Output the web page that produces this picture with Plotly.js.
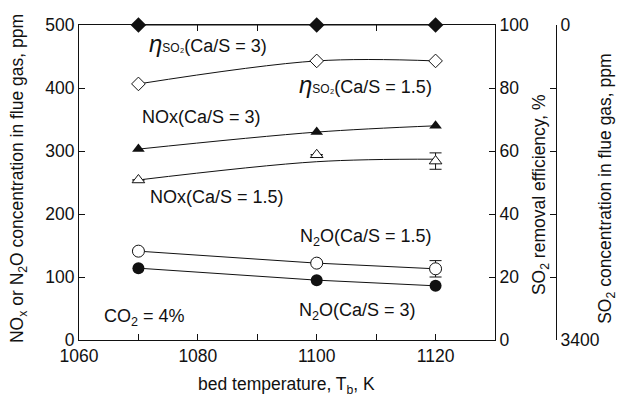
<!DOCTYPE html>
<html>
<head>
<meta charset="utf-8">
<script src="https://cdn.plot.ly/plotly-3.0.1.min.js"></script>
<style>html,body{margin:0;padding:0;background:#fff;}#chart{width:618px;height:403px;}</style>
</head>
<body>
<div id="chart"></div>
<script>
// ---- data ----
var temps = [1070, 1100, 1120];
var etaCaS3 = [100, 100, 100];          // SO2 removal efficiency, %, Ca/S = 3
var etaCaS15 = [81.3, 88.6, 88.6];      // SO2 removal efficiency, %, Ca/S = 1.5
var noxCaS3 = [303, 330, 340];          // NOx ppm, Ca/S = 3
var noxCaS15 = [254, 294, 284];         // NOx ppm, Ca/S = 1.5 (measured)
var noxCaS15Fit = [254, 283, 287];      // NOx ppm, Ca/S = 1.5 (fitted curve)
var noxCaS15Err = [null, null, 13];
var n2oCaS15 = [141, 122, 113];         // N2O ppm, Ca/S = 1.5
var n2oCaS15Err = [null, null, 13];
var n2oCaS3 = [114, 95, 86];            // N2O ppm, Ca/S = 3
var so2ConcTicks = [0, 680, 1360, 2040, 2720, 3400];
var so2ConcLabels = ['0', '', '', '', '', '3400'];

var ink = '#111';
var F = 'Liberation Sans, Arial, Helvetica, sans-serif';
var TS = 17.5;
var lineStyle = {color: ink, width: 1};

var traces = [
  {x: temps, y: etaCaS3, yaxis: 'y2', mode: 'lines+markers', line: lineStyle,
   marker: {symbol: 'diamond', size: 12, color: ink}, cliponaxis: false},
  {x: temps, y: etaCaS15, yaxis: 'y2', mode: 'lines+markers', line: {color: ink, width: 1, shape: 'spline'},
   marker: {symbol: 'diamond', size: 10.5, color: '#fff', line: {color: ink, width: 1}}},
  {x: temps, y: noxCaS3, mode: 'lines+markers', line: {color: ink, width: 1, shape: 'spline'},
   marker: {symbol: 'triangle-up', size: 11, color: ink}},
  {x: temps, y: noxCaS15Fit, mode: 'lines', line: {color: ink, width: 1, shape: 'spline'}},
  {x: temps, y: noxCaS15, mode: 'markers',
   error_y: {type: 'data', array: noxCaS15Err, color: ink, thickness: 1, width: 6},
   marker: {symbol: 'triangle-up', size: 11, color: '#fff', line: {color: ink, width: 1}}},
  {x: temps, y: n2oCaS15, mode: 'lines+markers', line: lineStyle,
   error_y: {type: 'data', array: n2oCaS15Err, color: ink, thickness: 1, width: 6},
   marker: {symbol: 'circle', size: 12, color: '#fff', line: {color: ink, width: 1}}},
  {x: temps, y: n2oCaS3, mode: 'lines+markers', line: lineStyle,
   marker: {symbol: 'circle', size: 12, color: ink}},
  // invisible carrier so the SO2-concentration axis is drawn
  {x: [temps[0]], y: [so2ConcTicks[0]], yaxis: 'y3', mode: 'markers', marker: {opacity: 0}, hoverinfo: 'skip'}
];

function ann(x, y, text) {
  return {x: x, y: y, xref: 'x', yref: 'y', text: text, showarrow: false,
          xanchor: 'left', yanchor: 'middle', font: {family: F, size: 18, color: ink}};
}
function title(x, y, text, angle) {
  return {xref: 'paper', yref: 'paper', x: x, y: y, text: text, textangle: angle, showarrow: false,
          xanchor: 'center', yanchor: 'middle', font: {family: F, size: 17.5, color: ink}};
}
var eta = '<span style="font-size:24px"><i>η</i></span><span style="font-size:12px">SO₂</span>';

var axCommon = {ticks: 'inside', ticklen: 6, tickcolor: ink, showline: true, linecolor: ink, linewidth: 1,
                showgrid: false, zeroline: false, tickfont: {family: F, size: TS, color: ink}};
function ax(o) { var r = {}; for (var k in axCommon) r[k] = axCommon[k]; for (var k2 in o) r[k2] = o[k2]; return r; }

var layout = {
  width: 618, height: 403,
  margin: {l: 79, r: 62, t: 25, b: 63},
  paper_bgcolor: '#fff', plot_bgcolor: '#fff',
  showlegend: false,
  font: {family: F, size: TS, color: ink},
  xaxis: ax({domain: [0, 0.8721], range: [1060, 1130], dtick: 20, tick0: 1060, mirror: 'ticks',
             minor: {dtick: 10, ticks: 'inside', ticklen: 6, tickcolor: ink}}),
  yaxis: ax({range: [0, 500], dtick: 100}),
  yaxis2: ax({range: [0, 100], dtick: 20, overlaying: 'y', side: 'right', anchor: 'x'}),
  yaxis3: ax({range: [3400, 0], overlaying: 'y', side: 'right', anchor: 'free', position: 1,
              tickmode: 'array', tickvals: so2ConcTicks, ticktext: so2ConcLabels, autorange: false}),
  annotations: [
    ann(1071.4, 471, eta + '(Ca/S = 3)'),
    ann(1096.7, 406, eta + '(Ca/S = 1.5)'),
    ann(1070.3, 354, 'NOx(Ca/S = 3)'),
    ann(1071.6, 227, 'NOx(Ca/S = 1.5)'),
    ann(1096.9, 162, 'N<sub>2</sub>O(Ca/S = 1.5)'),
    ann(1096.7, 46, 'N<sub>2</sub>O(Ca/S = 3)'),
    ann(1063.9, 36.5, 'CO<sub>2</sub> = 4%'),
    title(-0.128, 0.514, 'NO<sub>x</sub> or N<sub>2</sub>O concentration in flue gas, ppm', -90),
    title(0.436, -0.143, 'bed temperature, T<sub>b</sub>, K', 0),
    title(0.9665, 0.46, 'SO<sub>2</sub> removal efficiency, %', -90),
    title(1.107, 0.48, 'SO<sub>2</sub> concentration in flue gas, ppm', -90)
  ]
};

Plotly.newPlot('chart', traces, layout, {staticPlot: true, displayModeBar: false});
</script>
</body>
</html>
